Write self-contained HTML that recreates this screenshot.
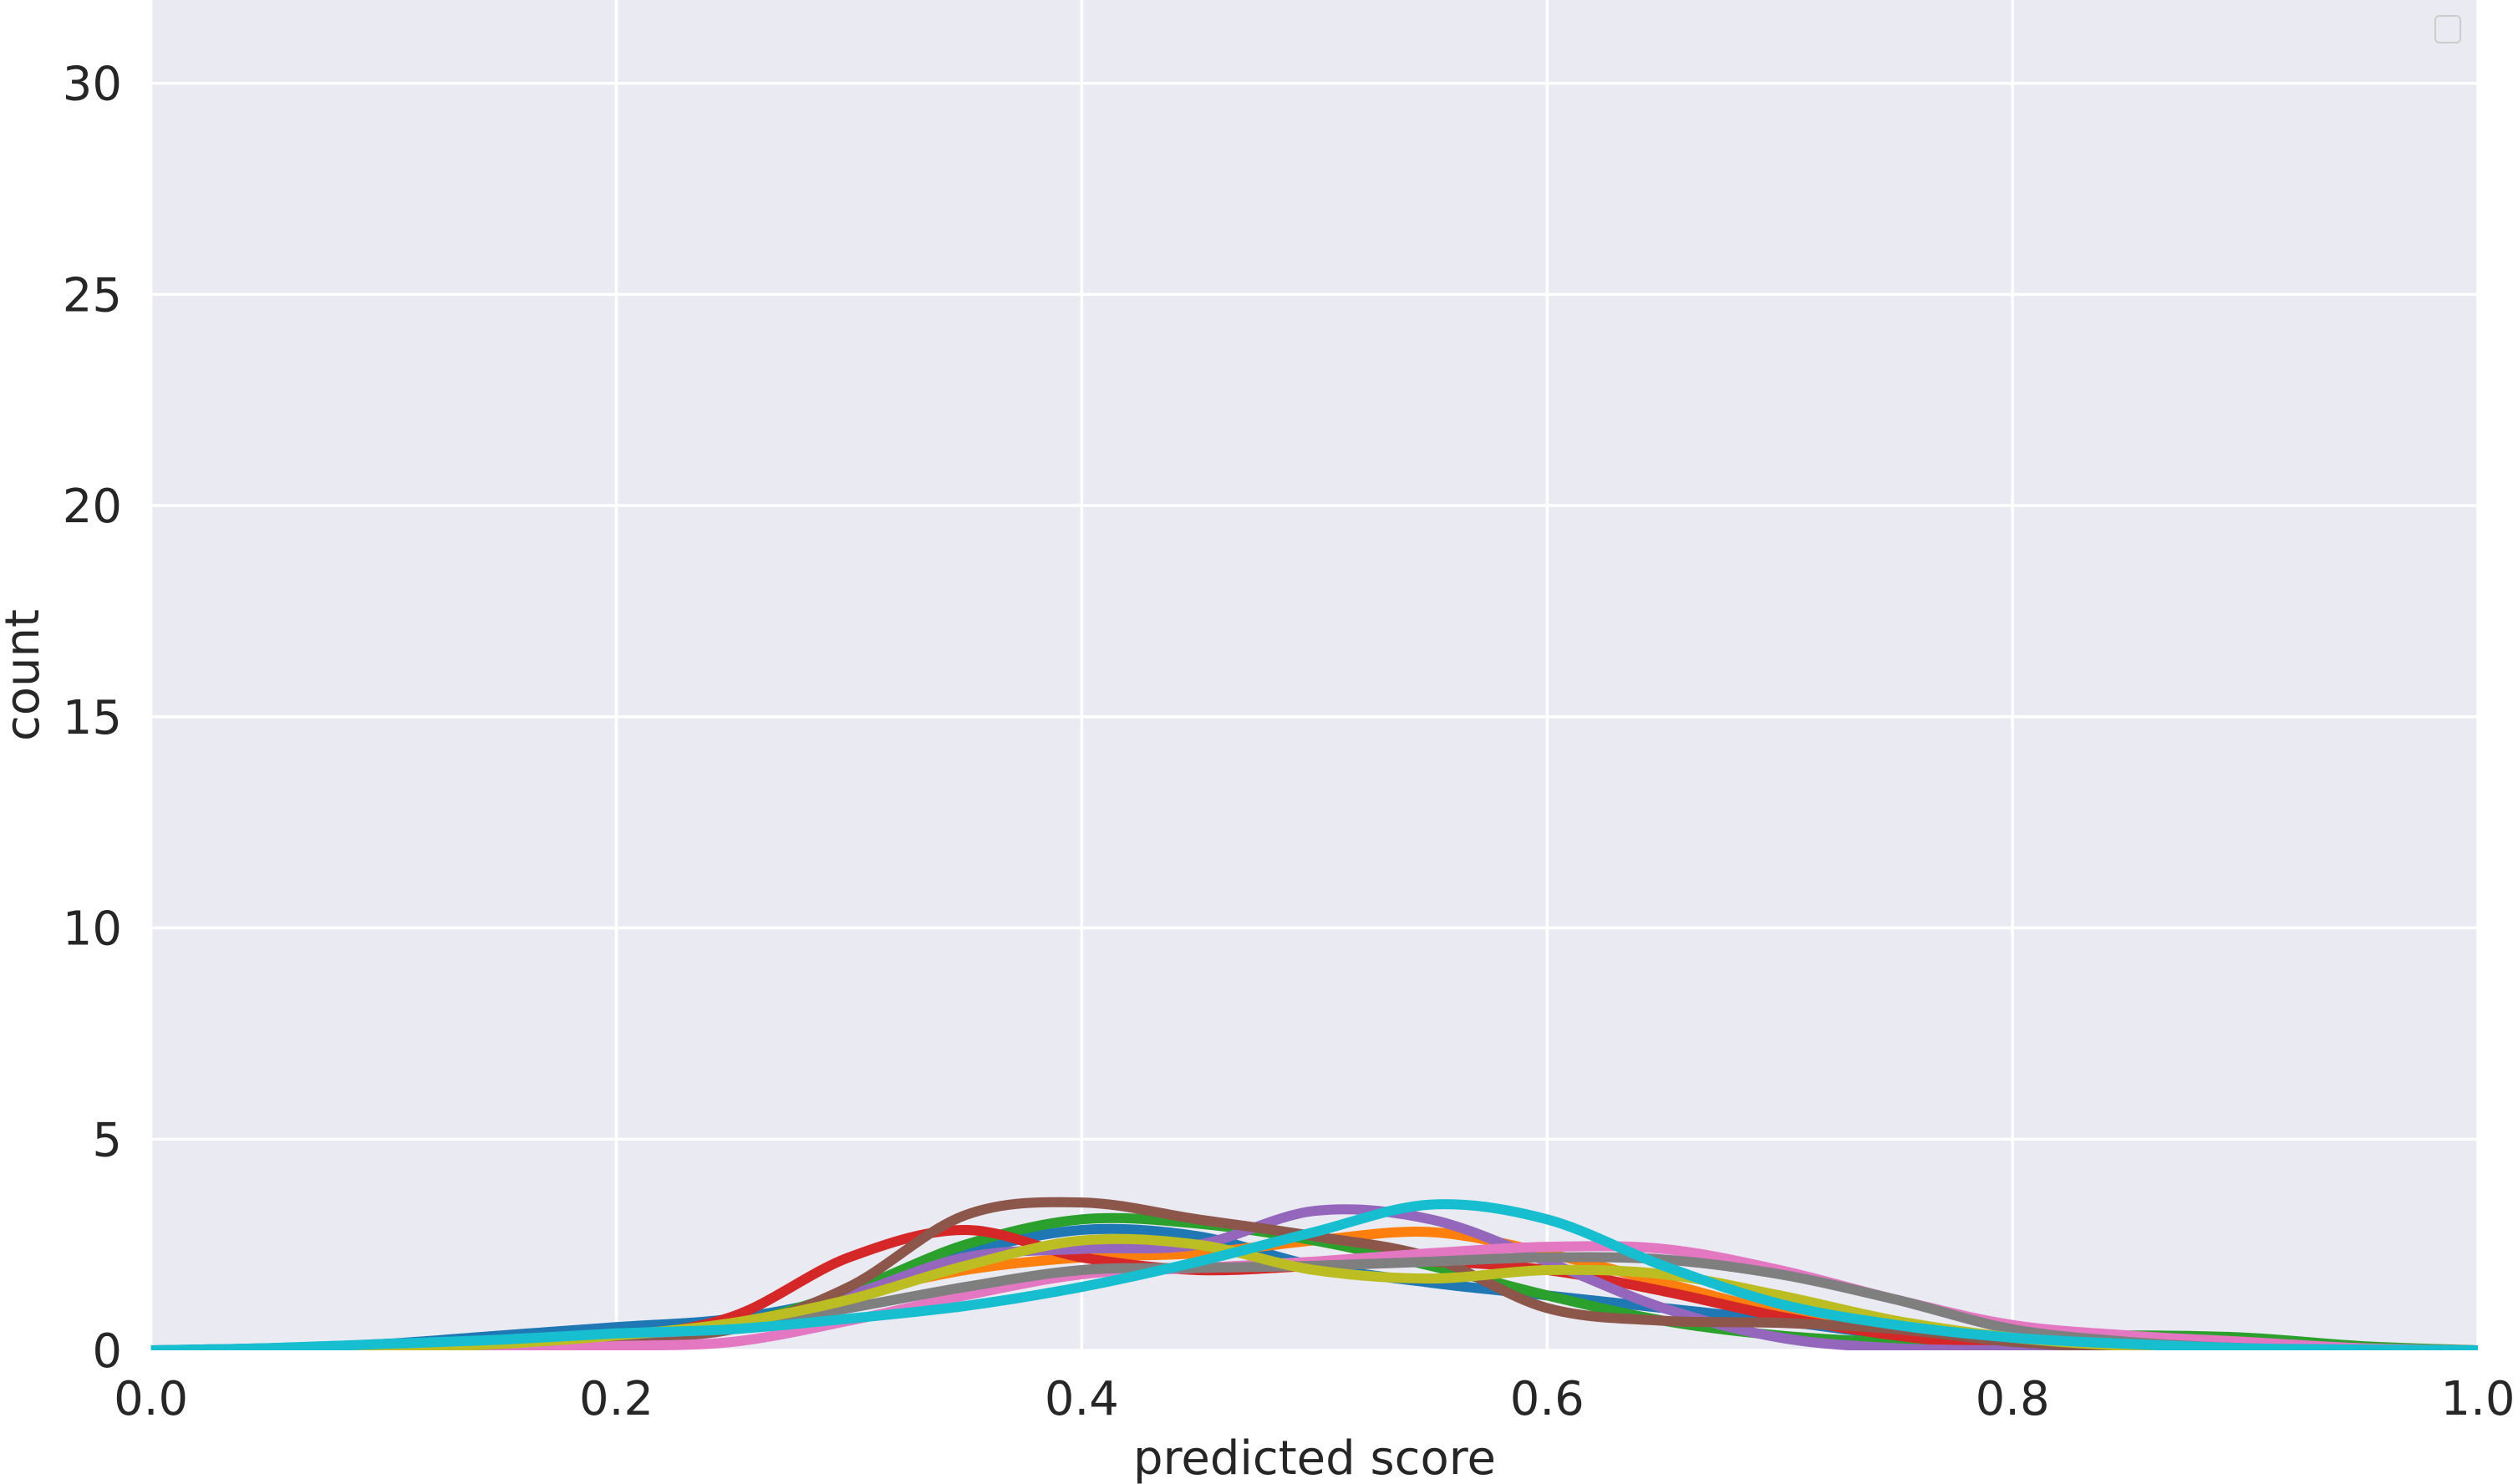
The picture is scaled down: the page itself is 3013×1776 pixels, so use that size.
<!DOCTYPE html>
<html><head><meta charset="utf-8"><style>
html,body{margin:0;padding:0;background:#fff;}
svg{display:block;font-family:"DejaVu Sans","Liberation Sans",sans-serif;}
</style></head><body>
<svg id="chart" width="3013" height="1776" viewBox="0 0 3013 1776" xmlns="http://www.w3.org/2000/svg">
<defs><clipPath id="clip"><rect x="180.6" y="0" width="2784.4" height="1616"/></clipPath></defs>
<rect x="180.6" y="0" width="2784.4" height="1616" fill="#eaeaf2"/>
<g id="grid"></g>
<g id="series" clip-path="url(#clip)"></g>
<g id="ticks"></g>
<rect x="2914" y="19" width="30" height="32" rx="5" fill="#eaeaf2" stroke="#cccccc" stroke-width="2"/>
<text x="1573" y="1764" font-size="56" fill="#262626" text-anchor="middle">predicted score</text>
<text transform="translate(46,808) rotate(-90)" font-size="56" fill="#262626" text-anchor="middle">count</text>
</svg>
<script>
const xTicks=[0,0.2,0.4,0.6,0.8,1.0];
const xTickLabels=["0.0","0.2","0.4","0.6","0.8","1.0"];
const yTicks=[0,5,10,15,20,25,30];
const xGrid=[0,0.05,0.1,0.15,0.2,0.25,0.3,0.35,0.4,0.45,0.5,0.55,0.6,0.65,0.7,0.75,0.8,0.85,0.9,0.95,1.0];
const blueVals=[0,0.05,0.15,0.35,0.55,0.75,1.3,2.3,2.85,2.7,2.0,1.6,1.3,1.0,0.7,0.35,0.15,0.05,0.02,0.01,0];
const orangeVals=[0,0,0.02,0.1,0.3,0.6,1.3,1.9,2.2,2.3,2.6,2.8,2.3,1.6,0.9,0.4,0.15,0.05,0.01,0,0];
const greenVals=[0,0,0.02,0.1,0.3,0.6,1.4,2.5,3.1,3.0,2.6,2.0,1.3,0.7,0.35,0.2,0.25,0.35,0.3,0.1,0];
const redVals=[0,0,0.02,0.1,0.3,0.8,2.2,2.85,2.2,1.9,2.0,2.1,1.9,1.4,0.8,0.35,0.1,0.03,0,0,0];
const purpleVals=[0,0,0.02,0.1,0.3,0.6,1.3,2.2,2.4,2.5,3.3,3.1,2.1,1.0,0.3,0.05,0,0,0,0,0];
const brownVals=[0,0,0.02,0.1,0.3,0.5,1.5,3.2,3.5,3.1,2.7,2.2,1.0,0.7,0.65,0.5,0.2,0.05,0,0,0];
const pinkVals=[0,0,0,0.02,0.1,0.2,0.7,1.3,1.8,1.95,2.1,2.3,2.45,2.4,1.9,1.2,0.6,0.35,0.2,0.05,0];
const grayVals=[0,0,0.05,0.15,0.35,0.55,1.0,1.5,1.9,1.95,2.0,2.1,2.2,2.15,1.8,1.2,0.5,0.2,0.05,0.01,0];
const oliveVals=[0,0,0.05,0.15,0.35,0.65,1.2,2.0,2.6,2.5,1.9,1.7,1.9,1.8,1.3,0.7,0.3,0.1,0.02,0,0];
const cyanVals=[0,0.05,0.15,0.25,0.4,0.5,0.75,1.05,1.5,2.1,2.8,3.45,3.1,2.0,1.1,0.6,0.3,0.15,0.05,0.02,0];
const seriesList=[["blue",blueVals,"#1f77b4"],["orange",orangeVals,"#ff7f0e"],["green",greenVals,"#2ca02c"],["red",redVals,"#d62728"],["purple",purpleVals,"#9467bd"],["brown",brownVals,"#8c564b"],["pink",pinkVals,"#e377c2"],["gray",grayVals,"#7f7f7f"],["olive",oliveVals,"#bcbd22"],["cyan",cyanVals,"#17becf"]];
const X0=180.6,X1=2965,Y0=1616,YMAX=31.97;
function sx(v){return X0+(X1-X0)*v;}
function sy(v){return Y0-Y0*v/YMAX;}
const NS="http://www.w3.org/2000/svg";
const grid=document.getElementById('grid'),ticks=document.getElementById('ticks'),ser=document.getElementById('series');
xTicks.forEach((t,i)=>{
  const l=document.createElementNS(NS,'line');
  
  
  l.setAttribute('x1',sx(t));l.setAttribute('x2',sx(t));l.setAttribute('y1',0);l.setAttribute('y2',Y0);
  l.setAttribute('stroke','#fff');l.setAttribute('stroke-width',3.5);grid.appendChild(l);
  const tx=document.createElementNS(NS,'text');
  
  
  tx.setAttribute('x',sx(t));tx.setAttribute('y',1693);tx.setAttribute('font-size',56);tx.setAttribute('fill','#262626');tx.setAttribute('text-anchor','middle');
  tx.textContent=xTickLabels[i];ticks.appendChild(tx);
});
yTicks.forEach(t=>{
  const l=document.createElementNS(NS,'line');
  
  
  l.setAttribute('x1',X0);l.setAttribute('x2',X1);l.setAttribute('y1',sy(t));l.setAttribute('y2',sy(t));
  l.setAttribute('stroke','#fff');l.setAttribute('stroke-width',3.5);grid.appendChild(l);
  const tx=document.createElementNS(NS,'text');
  
  
  tx.setAttribute('x',146);tx.setAttribute('y',sy(t)+20);tx.setAttribute('font-size',56);tx.setAttribute('fill','#262626');tx.setAttribute('text-anchor','end');
  tx.textContent=String(t);ticks.appendChild(tx);
});
seriesList.forEach(([name,vals,col])=>{
  const pts=xGrid.map((x,i)=>[sx(x),sy(Math.max(0,vals[i]))]);
  let d='M'+pts[0][0]+','+pts[0][1];
  for(let i=0;i<pts.length-1;i++){
    const p0=pts[Math.max(0,i-1)],p1=pts[i],p2=pts[i+1],p3=pts[Math.min(pts.length-1,i+2)];
    const c1=[p1[0]+(p2[0]-p0[0])/6,Math.min(Y0,p1[1]+(p2[1]-p0[1])/6)];
    const c2=[p2[0]-(p3[0]-p1[0])/6,Math.min(Y0,p2[1]-(p3[1]-p1[1])/6)];
    d+=' C'+c1[0]+','+c1[1]+' '+c2[0]+','+c2[1]+' '+p2[0]+','+p2[1];
  }
  const p=document.createElementNS(NS,'path');
  
  
  p.setAttribute('d',d);p.setAttribute('fill','none');p.setAttribute('stroke',col);
  p.setAttribute('stroke-width',12);p.setAttribute('stroke-linecap','round');p.setAttribute('stroke-linejoin','round');
  ser.appendChild(p);
});
</script>
</body></html>
